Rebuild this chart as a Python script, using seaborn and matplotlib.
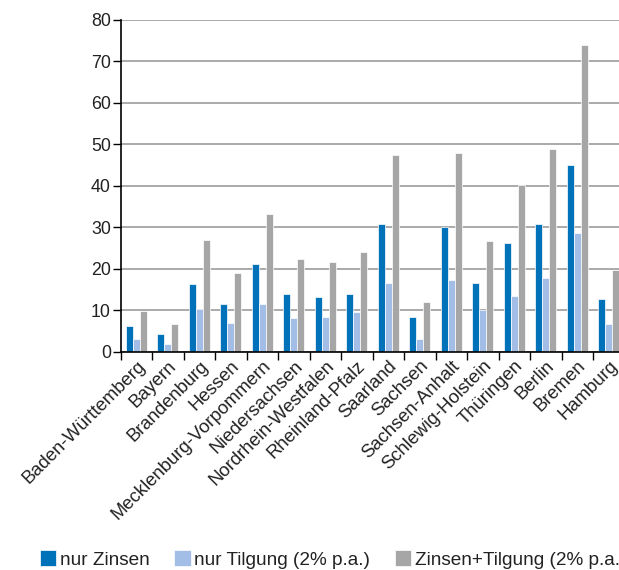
import matplotlib
matplotlib.use('Agg')
import matplotlib.pyplot as plt
import seaborn as sns
import pandas as pd

# ── data ──
laender = ['Baden-Württemberg', 'Bayern', 'Brandenburg', 'Hessen',
           'Mecklenburg-Vorpommern', 'Niedersachsen', 'Nordrhein-Westfalen',
           'Rheinland-Pfalz', 'Saarland', 'Sachsen', 'Sachsen-Anhalt',
           'Schlewig-Holstein', 'Thüringen', 'Berlin', 'Bremen', 'Hamburg']
nur_zinsen = [6.3, 4.3, 16.3, 11.6, 21.3, 14.0, 13.2, 14.0, 30.8, 8.5,
              30.1, 16.6, 26.3, 30.8, 45.1, 12.8]
nur_tilgung = [3.1, 2.0, 10.4, 7.1, 11.6, 8.2, 8.5, 9.7, 16.6, 3.1,
               17.4, 10.0, 13.6, 17.8, 28.6, 6.7]
zinsen_tilgung = [9.9, 6.7, 27.1, 19.0, 33.2, 22.4, 21.7, 24.0, 47.5, 12.0,
                  47.9, 26.7, 40.2, 49.0, 74.0, 19.8]
serien = ['nur Zinsen', 'nur Tilgung (2% p.a.)', 'Zinsen+Tilgung (2% p.a.)']
farben = ['#0072b9', '#a2bee6', '#a6a6a6']

# long format for seaborn
df = pd.DataFrame({
    'land': laender * 3,
    'serie': [serien[0]] * 16 + [serien[1]] * 16 + [serien[2]] * 16,
    'wert': nur_zinsen + nur_tilgung + zinsen_tilgung,
})

sns.set_theme(style='white')
plt.rcParams['font.family'] = ['Liberation Sans', 'DejaVu Sans']

fig = plt.figure(figsize=(6.19, 5.70), dpi=100)
ax = fig.add_axes([0.195, 0.3825, 0.814, 0.5825])

sns.barplot(data=df, x='land', y='wert', hue='serie', palette=farben,
            saturation=1, width=0.67, edgecolor='white', linewidth=0.5, ax=ax)

ax.set_xlim(-0.5, len(laender) - 0.5)
ax.set_ylim(0, 80)
ax.set_yticks(range(0, 81, 10))
ax.yaxis.grid(True, color='#a4a4a4', linewidth=1.3)
ax.set_axisbelow(True)
ax.set_xlabel('')
ax.set_ylabel('')

for s in ['top', 'right']:
    ax.spines[s].set_visible(False)
for s in ['left', 'bottom']:
    ax.spines[s].set_color('black')
    ax.spines[s].set_linewidth(1.2)

# tick marks between the groups, labels centred under them
ax.set_xticks([i - 0.5 for i in range(len(laender) + 1)], minor=True)
ax.tick_params(axis='x', which='minor', length=6, width=1, color='black',
               direction='out', bottom=True)
ax.tick_params(axis='x', which='major', length=0, pad=4)
ax.tick_params(axis='y', length=6, width=1, color='black', direction='out',
               left=True, labelsize=12.8, pad=1, labelcolor='#222222')
ax.set_xticks(range(len(laender)))
ax.set_xticklabels(laender, rotation=45, ha='right', va='top',
                   rotation_mode='anchor', fontsize=13.3, color='#222222')

# legend at the bottom, runs off the right edge like the original
handles, labels = ax.get_legend_handles_labels()
ax.get_legend().remove()
fig.legend(handles, labels, loc='center left', ncol=3,
           bbox_to_anchor=(0.0646, 0.019), frameon=False, fontsize=13.7,
           borderpad=0, borderaxespad=0,
           handlelength=0.85, handleheight=0.95, handletextpad=0.2,
           columnspacing=1.3, labelcolor='#222222')

fig.savefig('out.png', dpi=100)
